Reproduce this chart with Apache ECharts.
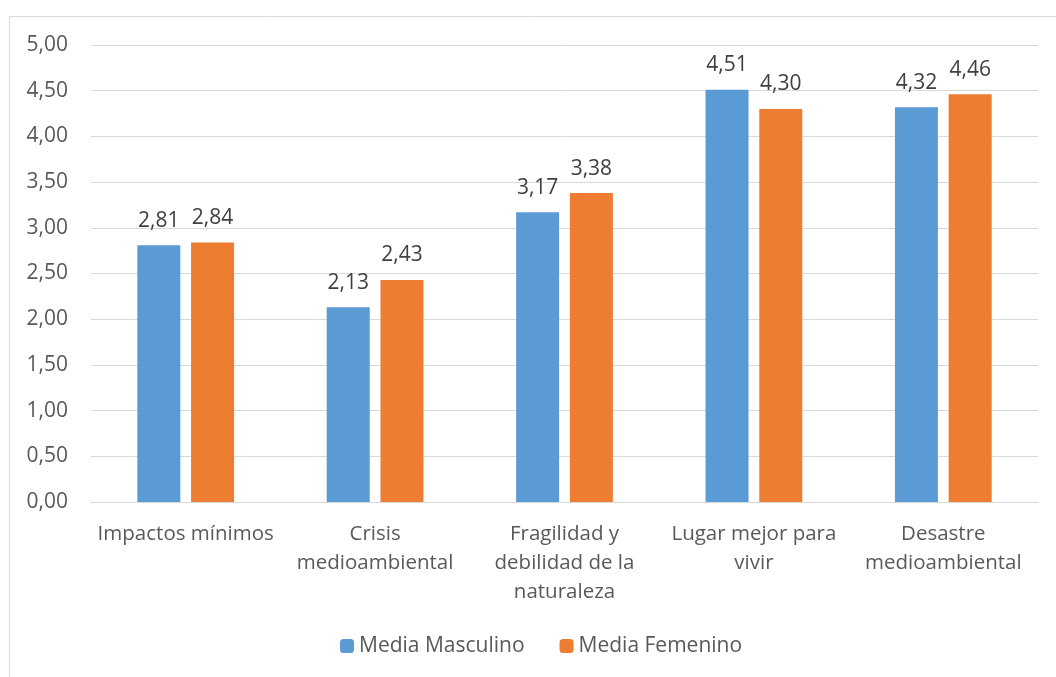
<!DOCTYPE html>
<html><head><meta charset="utf-8">
<script src="https://cdn.jsdelivr.net/npm/echarts@6/dist/echarts.min.js"></script>
<style>html,body{margin:0;padding:0;background:#fff}#c{width:1056px;height:677px}</style>
</head><body><div id="c"></div>
<script>
const categories = ["Impactos mínimos", "Crisis\nmedioambiental", "Fragilidad y\ndebilidad de la\nnaturaleza", "Lugar mejor para\nvivir", "Desastre\nmedioambiental"];
const masculino = [2.81, 2.13, 3.17, 4.51, 4.32];
const femenino = [2.84, 2.43, 3.38, 4.30, 4.46];
const seriesNames = ["Media Masculino", "Media Femenino"];
const FONT = "'Open Sans', 'Liberation Sans', sans-serif";
const fmt = v => v.toFixed(2).replace('.', ',');
const chart = echarts.init(document.getElementById('c'));
chart.setOption({
  animation: false,
  textStyle: { fontFamily: FONT },
  graphic: [{ type: 'rect', shape: { x: 9.5, y: 16.5, width: 1100, height: 700 }, style: { fill: 'none', stroke: '#d9d9d9', lineWidth: 1 }, silent: true }],
  grid: { left: 91, right: 18, top: 45, bottom: 175 },
  legend: {
    top: 634, left: 340, itemWidth: 14, itemHeight: 14, itemGap: 35, padding: 0,
    textStyle: { fontSize: 21, lineHeight: 24, color: '#595959', fontFamily: FONT },
    data: seriesNames
  },
  xAxis: {
    type: 'category', data: categories,
    axisLine: { lineStyle: { color: '#d9d9d9', width: 1 } },
    axisTick: { show: false },
    axisLabel: { interval: 0, fontSize: 20.5, color: '#595959', lineHeight: 29, margin: 18, fontFamily: FONT }
  },
  yAxis: {
    type: 'value', min: 0, max: 5, interval: 0.5,
    axisLine: { show: false }, axisTick: { show: false },
    splitLine: { lineStyle: { color: '#d9d9d9', width: 1 } },
    axisLabel: { fontSize: 21, color: '#595959', margin: 23, formatter: v => fmt(v), fontFamily: FONT }
  },
  series: [
    { name: seriesNames[0], type: 'bar', data: masculino, barWidth: 43, barGap: '25%', itemStyle: { color: '#5b9bd5' },
      label: { show: true, position: 'top', distance: 14, fontSize: 21, color: '#404040', formatter: p => fmt(p.value), fontFamily: FONT } },
    { name: seriesNames[1], type: 'bar', data: femenino, barWidth: 43, barGap: '25%', itemStyle: { color: '#ed7d31' },
      label: { show: true, position: 'top', distance: 14, fontSize: 21, color: '#404040', formatter: p => fmt(p.value), fontFamily: FONT } }
  ]
});
</script></body></html>
